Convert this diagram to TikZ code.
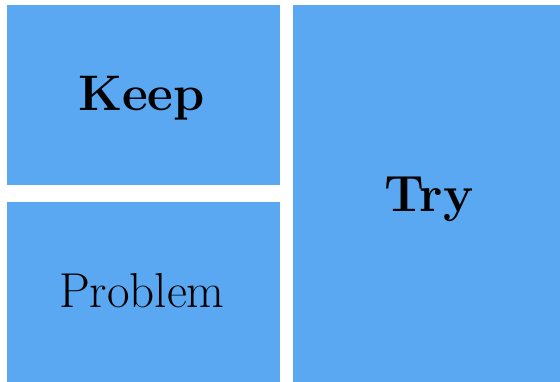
\documentclass[tikz,border=0pt]{standalone}
\usepackage{tikz}
\usetikzlibrary{positioning}

\definecolor{cardblue}{RGB}{90,168,242}

\tikzset{
    card/.style={fill=cardblue, draw=none, inner sep=0pt, outer sep=0pt},
    bigword/.style={anchor=base, inner sep=0pt, font=\fontsize{50}{50}\selectfont\bfseries},
    plainword/.style={anchor=base, inner sep=0pt, font=\fontsize{49}{49}\selectfont}
}

\begin{document}
\begin{tikzpicture}[x=1pt, y=-1pt]
        \useasboundingbox (0,0) rectangle (560,382);
        % three cards
        \node[card, minimum width=273pt, minimum height=180pt] (keep) at (143.5,95) {};
        \node[card, minimum width=273pt, minimum height=180pt] (problem) at (143.5,292) {};
        \node[card, minimum width=267pt, minimum height=377pt] (try) at (426.5,193.5) {};
        % words
        \node[bigword] (keepword) at (141.5,111) {Keep};
        \node[plainword] (problemword) at (142,308) {Problem};
        \node[bigword, font=\fontsize{51}{51}\selectfont\bfseries] (tryword) at (429,212) {Try};
    \end{tikzpicture}
\end{document}
